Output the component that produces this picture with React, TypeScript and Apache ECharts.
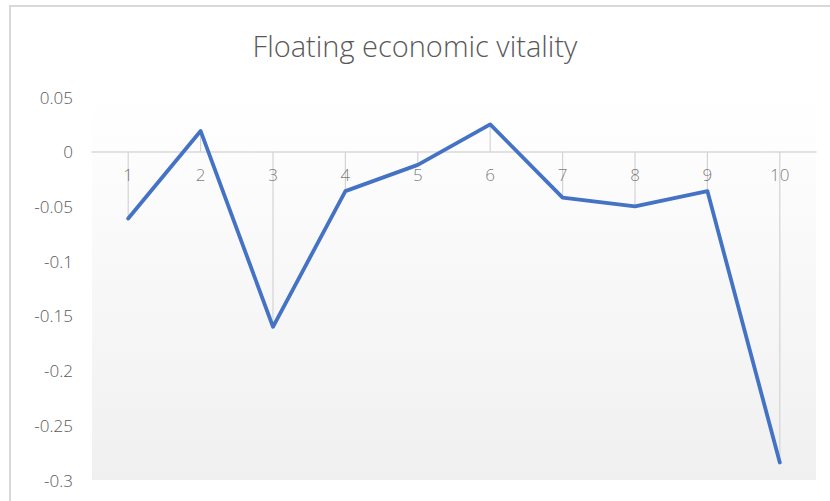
import React, { useEffect, useRef } from "react";
import * as echarts from "echarts";

const categories = ["1", "2", "3", "4", "5", "6", "7", "8", "9", "10"];
const values = [-0.061, 0.019, -0.16, -0.036, -0.012, 0.025, -0.042, -0.05, -0.036, -0.284];
const yTicks = { min: -0.3, max: 0.05, interval: 0.05 };
const titleText = "Floating economic vitality";

export default function App() {
  const ref = useRef<HTMLDivElement>(null);
  useEffect(() => {
    if (!ref.current) return;
    const chart = echarts.init(ref.current, null, { renderer: "svg" });
    const font = "'Open Sans', Lato, 'Noto Sans', sans-serif";
    chart.setOption({
      animation: false,
      backgroundColor: "#ffffff",
      title: {
        text: titleText,
        left: "center",
        top: 26,
        textStyle: { fontFamily: font, fontSize: 29, fontWeight: 300, color: "#595959" },
      },
      graphic: [
        {
          type: "rect",
          shape: { x: 10, y: 6, width: 900, height: 600 },
          style: { fill: "none", stroke: "#d9d9d9", lineWidth: 2 },
          silent: true,
        },
      ],
      grid: {
        left: 92,
        right: 14,
        top: 97,
        bottom: 21,
        show: true,
        borderWidth: 0,
        backgroundColor: new echarts.graphic.LinearGradient(0, 0, 0, 1, [
          { offset: 0, color: "#ffffff" },
          { offset: 1, color: "#f0f0f0" },
        ]),
      },
      xAxis: {
        type: "category",
        data: categories,
        boundaryGap: true,
        axisLine: { show: true, onZero: true, lineStyle: { color: "#d9d9d9", width: 1.5 } },
        axisTick: { show: false },
        splitLine: { show: false },
        axisLabel: { show: false },
      },
      yAxis: {
        type: "value",
        min: yTicks.min,
        max: yTicks.max,
        interval: yTicks.interval,
        axisLine: { show: false },
        axisTick: { show: false },
        splitLine: { show: false },
        axisLabel: {
          color: "#595959",
          fontSize: 17,
          fontFamily: font,
          fontWeight: 300,
          margin: 19,
          formatter: (v: number) => {
            const r = Math.round(v * 100) / 100;
            return r === 0 ? "0" : String(r);
          },
        },
      },
      series: [
        {
          type: "bar",
          data: values,
          barWidth: 1.2,
          itemStyle: { color: "#d4d4d4" },
          silent: true,
          z: 1,
        },
        {
          type: "scatter",
          data: categories.map((c) => [c, 0]),
          symbolSize: 0,
          silent: true,
          z: 2,
          label: {
            show: true,
            position: "bottom",
            distance: 14,
            formatter: (p: any) => p.data[0],
            color: "#595959",
            fontSize: 17,
            fontFamily: font,
            fontWeight: 300,
          },
        },
        {
          type: "line",
          data: values,
          showSymbol: false,
          symbol: "none",
          lineStyle: { color: "#4472C4", width: 3.8, cap: "round", join: "round" },
          z: 3,
        },
      ],
    });
    return () => chart.dispose();
  }, []);
  return (
    <div
      ref={ref}
      style={{ position: "absolute", left: 0, top: 0, width: 830, height: 501 }}
    />
  );
}
